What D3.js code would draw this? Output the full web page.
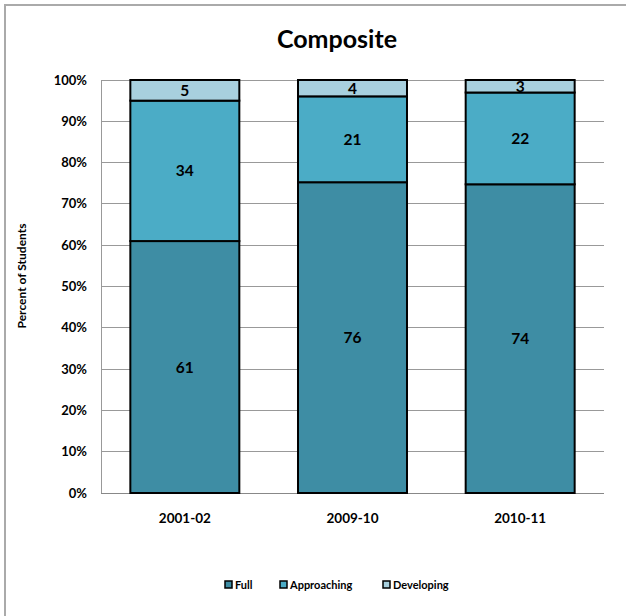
<!DOCTYPE html>
<html><head><meta charset="utf-8">
<script src="https://cdn.jsdelivr.net/npm/d3@7"></script>
<style>body{margin:0;background:#fff;} svg{display:block;font-family:Lato,"Open Sans",sans-serif;font-weight:bold;}</style>
</head><body>
<svg id="c" width="626" height="616"></svg>
<script>
const categories = ["2001-02","2009-10","2010-11"];
const seriesNames = ["Full","Approaching","Developing"];
const full = [61,76,74];
const approaching = [34,21,22];
const developing = [5,4,3];
const yTicks = [0,0.1,0.2,0.3,0.4,0.5,0.6,0.7,0.8,0.9,1.0];
const colors = ["#3E8DA4","#4BACC6","#A8D0DE"];

const svg = d3.select("#c");
svg.append("rect").attr("x",5).attr("y",5).attr("width",700).attr("height",700)
  .attr("fill","#fff").attr("stroke","#aaa").attr("stroke-width",2);

const m = {l:101,r:604,t:80,b:493};
const x = d3.scaleBand().domain(categories).range([m.l,m.r]).paddingInner(0.35).paddingOuter(0.175);
const y = d3.scaleLinear().domain([0,1]).range([m.b,m.t]);

const rows = categories.map((c,i)=>({cat:c,Full:full[i],Approaching:approaching[i],Developing:developing[i]}));
const stack = d3.stack().keys(seriesNames).offset(d3.stackOffsetExpand);
const layers = stack(rows);

// gridlines
svg.append("g").selectAll("line").data(yTicks.slice(1)).join("line")
  .attr("x1",m.l).attr("x2",m.r).attr("y1",d=>y(d)).attr("y2",d=>y(d))
  .attr("stroke","#999").attr("stroke-width",1).attr("shape-rendering","crispEdges");
svg.append("line").attr("x1",m.l).attr("x2",m.l).attr("y1",m.t).attr("y2",m.b)
  .attr("stroke","#999").attr("shape-rendering","crispEdges");
svg.append("line").attr("x1",m.l).attr("x2",m.r).attr("y1",m.b).attr("y2",m.b)
  .attr("stroke","#888").attr("shape-rendering","crispEdges");

// y labels
svg.append("g").selectAll("text").data(yTicks).join("text")
  .attr("x",87).attr("y",d=>y(d)).attr("dy","0.35em").attr("text-anchor","end")
  .attr("font-size",13).text(d=>d3.format(".0%")(d));

// bars
layers.forEach((layer,li)=>{
  const g = svg.append("g");
  g.selectAll("rect").data(layer).join("rect")
    .attr("x",d=>x(d.data.cat)).attr("width",x.bandwidth())
    .attr("y",d=>y(d[1])).attr("height",d=>y(d[0])-y(d[1]))
    .attr("fill",colors[li]).attr("stroke","#000").attr("stroke-width",2);
});
layers.forEach((layer,li)=>{
  svg.append("g").selectAll("text").data(layer).join("text")
    .attr("x",d=>x(d.data.cat)+x.bandwidth()/2)
    .attr("y",d=>(y(d[0])+y(d[1]))/2).attr("dy","0.36em")
    .attr("text-anchor","middle").attr("font-size",15.5).attr("fill","#000")
    .text(d=>d.data[seriesNames[li]]);
});

// x labels
svg.append("g").selectAll("text").data(categories).join("text")
  .attr("x",d=>x(d)+x.bandwidth()/2).attr("y",518).attr("dy","0.35em")
  .attr("text-anchor","middle").attr("font-size",13.5).text(d=>d);

// title
svg.append("text").attr("x",337).attr("y",48).attr("text-anchor","middle")
  .attr("font-size",25).text("Composite");

// y axis title
svg.append("text").attr("transform","translate(26,276) rotate(-90)")
  .attr("text-anchor","middle").attr("font-size",12).text("Percent of Students");

// legend
const legX = [225,280,383];
const lg = svg.append("g").selectAll("g").data(seriesNames).join("g")
  .attr("transform",(d,i)=>`translate(${legX[i]},585)`);
lg.append("rect").attr("x",0).attr("y",-4).attr("width",7).attr("height",7)
  .attr("fill",(d,i)=>colors[i]).attr("stroke","#000").attr("stroke-width",1.5);
lg.append("text").attr("x",10).attr("y",0).attr("dy","0.35em").attr("font-size",11).text(d=>d);
</script>
</body></html>
